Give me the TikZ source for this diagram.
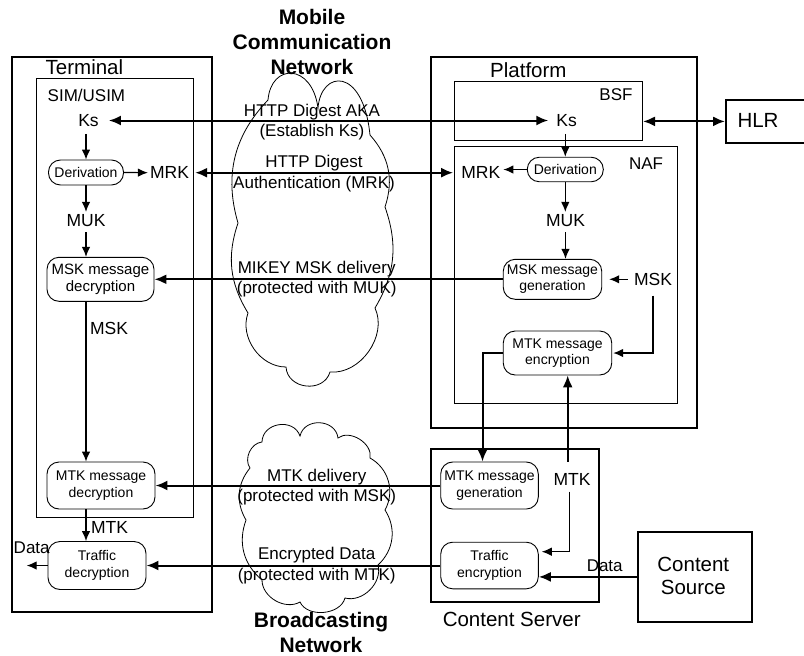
\documentclass[tikz,border=0pt]{standalone}
\usepackage{fontspec}
\setmainfont{Liberation Sans}
\usetikzlibrary{arrows.meta,calc}
\tikzset{
  bigbox/.style={draw, line width=1.8pt, inner sep=0, anchor=north west},
  thinbox/.style={draw, line width=1pt, inner sep=0, anchor=north west},
  lab/.style={inner sep=0, font=\fontsize{20.5}{24}\selectfont},
  sub/.style={inner sep=0, font=\fontsize{17}{20}\selectfont},
  key/.style={inner sep=0, font=\fontsize{17.5}{20}\selectfont},
  msg/.style={inner sep=0, align=center, font=\fontsize{17}{20.5}\selectfont},
  title/.style={inner sep=0, align=center, font=\bfseries\fontsize{21}{25}\selectfont},
  rbox/.style={draw, line width=0.9pt, rounded corners=12pt, align=center, inner sep=0, font=\fontsize{14}{16.5}\selectfont},
  big/.style={line width=2pt, -{Latex[length=12pt,width=10pt]}},
  dbl/.style={line width=2pt, {Latex[length=12pt,width=10pt]}-{Latex[length=12pt,width=10pt]}},
  small/.style={line width=1.2pt, -{Latex[length=10pt,width=8.5pt]}},
  cloudline/.style={line width=0.8pt},
}
\begin{document}
\begin{tikzpicture}[x=1pt,y=-1pt]
\useasboundingbox (0,0) rectangle (804,656);
% clouds
\draw[cloudline] (268,100) .. controls (271,63) and (312,63) .. (318,108)
  .. controls (321,70) and (363,66) .. (370,135) to[bend left=30] (385,207)
  to[bend left=25] (375,308) to[bend left=60] (330,372)
  to[bend left=80, looseness=1.3] (286,367) to[bend left=55] (248,313)
  to[bend left=25] (238,223) to[bend left=30] (268,100);
\draw[cloudline] (250,468) to[bend left=60] (262,442) to[bend left=80, looseness=1.3] (300,436)
  to[bend left=80, looseness=1.3] (338,438) to[bend left=70] (370,458)
  to[bend left=45] (385,510) to[bend left=40] (378,565) to[bend left=60] (345,598)
  to[bend left=70] (300,602) to[bend left=60] (262,580) to[bend left=35] (246,520)
  to[bend left=35] (250,468);
% titles
\node[title] (mcn) at (312,42) {Mobile\\Communication\\Network};
\node[title] (bcn) at (321,632) {Broadcasting\\Network};
% terminal
\node[bigbox, minimum width=200pt, minimum height=555pt] (term) at (11,56) {};
\node[lab, anchor=west] (termlab) at (45.5,67) {Terminal};
\node[thinbox, minimum width=157pt, minimum height=439pt] (sim) at (36,78) {};
\node[sub, anchor=west] (simlab) at (47.5,95) {SIM/USIM};
\node[key] (tks) at (88.5,120.5) {Ks};
\node[rbox, minimum width=75pt, minimum height=25pt] (t1) at (86,172.5) {Derivation};
\node[key] (tmrk) at (169.5,172.7) {MRK};
\node[key] (tmuk) at (86,220.7) {MUK};
\node[rbox, minimum width=107pt, minimum height=44pt, font=\fontsize{15}{16.5}\selectfont] (t2) at (100.5,279.3) {MSK message\\decryption};
\node[key] (tmsk) at (109,328) {MSK};
\node[rbox, minimum width=108pt, minimum height=47pt] (t3) at (101,485.5) {MTK message\\decryption};
\node[key] (tmtk) at (109.5,527.7) {MTK};
\node[rbox, minimum width=98pt, minimum height=48pt] (t4) at (97,565.5) {Traffic\\decryption};
\node[sub] (tdatal) at (31.7,548) {Data};
\coordinate (tdata) at (26.7,565.5);
% platform
\node[bigbox, minimum width=266pt, minimum height=371pt] (plat) at (430,56) {};
\node[lab, anchor=west] (platlab) at (490,70) {Platform};
\node[thinbox, minimum width=188pt, minimum height=59pt] (bsf) at (454,81) {};
\node[sub] (bsflab) at (616,95) {BSF};
\node[key] (pks) at (566.7,120.5) {Ks};
\node[bigbox, minimum width=95pt, minimum height=43pt] (hlr) at (725,99) {};
\node[lab] (hlrlab) at (758,120.5) {HLR};
\node[thinbox, minimum width=223pt, minimum height=257pt] (naf) at (454,146) {};
\node[sub] (naflab) at (646,164) {NAF};
\node[rbox, minimum width=76pt, minimum height=24.5pt] (p1) at (565.3,169.5) {Derivation};
\node[key] (pmrk) at (480.8,172.7) {MRK};
\node[key] (pmuk) at (565.5,220.7) {MUK};
\node[rbox, minimum width=98.5pt, minimum height=40pt] (p2) at (552.5,279.3) {MSK message\\generation};
\node[key] (pmsk) at (653,279.3) {MSK};
\node[rbox, minimum width=108.5pt, minimum height=44pt] (p3) at (557.5,353) {MTK message\\encryption};
% content server
\node[bigbox, minimum width=168pt, minimum height=153pt] (cs) at (430,448) {};
\node[lab] (cslab) at (511.7,619.3) {Content Server};
\node[rbox, minimum width=97.6pt, minimum height=47pt] (c1) at (489.5,485.5) {MTK message\\generation};
\node[key] (cmtk) at (572,479) {MTK};
\node[rbox, minimum width=97.6pt, minimum height=46.6pt] (c2) at (489.5,565.5) {Traffic\\encryption};
\node[bigbox, minimum width=114pt, minimum height=90pt] (csrc) at (637,531) {};
\node[lab, align=center, font=\fontsize{20.5}{23.4}\selectfont] (csrclab) at (693.3,576) {Content\\Source};
\node[sub] (cdatal) at (604.7,565.7) {Data};
% arrow labels
\node[msg] (l1) at (312,122) {HTTP Digest AKA\\(Establish Ks)};
\node[msg] (l2) at (314,173.5) {HTTP Digest\\Authentication (MRK)};
\node[msg] (l3) at (316.7,279) {MIKEY MSK delivery\\(protected with MUK)};
\node[msg] (l4) at (316.7,487) {MTK delivery\\(protected with MSK)};
\node[msg] (l5) at (316.7,565.5) {Encrypted Data\\(protected with MTK)};
% main connectors
\draw[dbl, shorten <=10pt, shorten >=8pt] (tks.east) -- (pks.west);
\draw[dbl, shorten <=6pt, shorten >=8pt] (tmrk.east) -- (pmrk.west);
\draw[big] (p2.west) -- (t2.east);
\draw[big] (c1.west) -- (t3.east);
\draw[big] (c2.west) -- (t4.east);
\draw[dbl] (bsf.east |- hlr.west) -- (hlr.west);
% terminal internal
\draw[small, shorten <=7pt] (t1.north |- tks.south) -- (t1.north);
\draw[small, shorten >=2pt] (t1.east) -- (tmrk.west);
\draw[small, shorten >=2.5pt] (t1.south) -- (tmuk.north);
\draw[small, shorten <=5pt] (tmuk.south) -- (tmuk.south |- t2.north);
\draw[small] (tmuk |- t2.south) -- (tmuk |- t3.north);
\draw[small] (tmuk |- t3.south) -- (tmuk |- t4.north);
\draw[small] (t4.west) -- (tdata);
% platform internal
\draw[small, shorten <=7pt] (p1.north |- pks.south) -- (p1.north);
\draw[small, shorten >=3pt] (p1.west) -- (p1.west -| pmrk.east);
\draw[small, shorten >=2.5pt] (p1.south) -- (p1.south |- pmuk.north);
\draw[small, shorten <=5pt] (pmuk.south) -- (pmuk.south |- p2.north);
\draw[small, shorten <=6pt, shorten >=7pt] (pmsk.west) -- (p2.east);
\draw[small, shorten <=10pt, shorten >=1pt] (pmsk.south) |- (p3.east);
\coordinate (bend1) at (482.5,353);
\draw[big] (p3.west) -- (bend1) -- (bend1 |- c1.north);
% content server internal
\coordinate (ctop) at (567.7,461.7);
\draw[big] (ctop) -- (ctop |- p3.south);
\coordinate (cbend) at (569.3,551.7);
\draw[small, shorten <=6.5pt, shorten >=3pt] (cmtk.south -| cbend) -- (cbend) -- (cbend -| c2.east);
\draw[big] (csrc.west) -- (csrc.west -| c2.east);
\end{tikzpicture}
\end{document}
